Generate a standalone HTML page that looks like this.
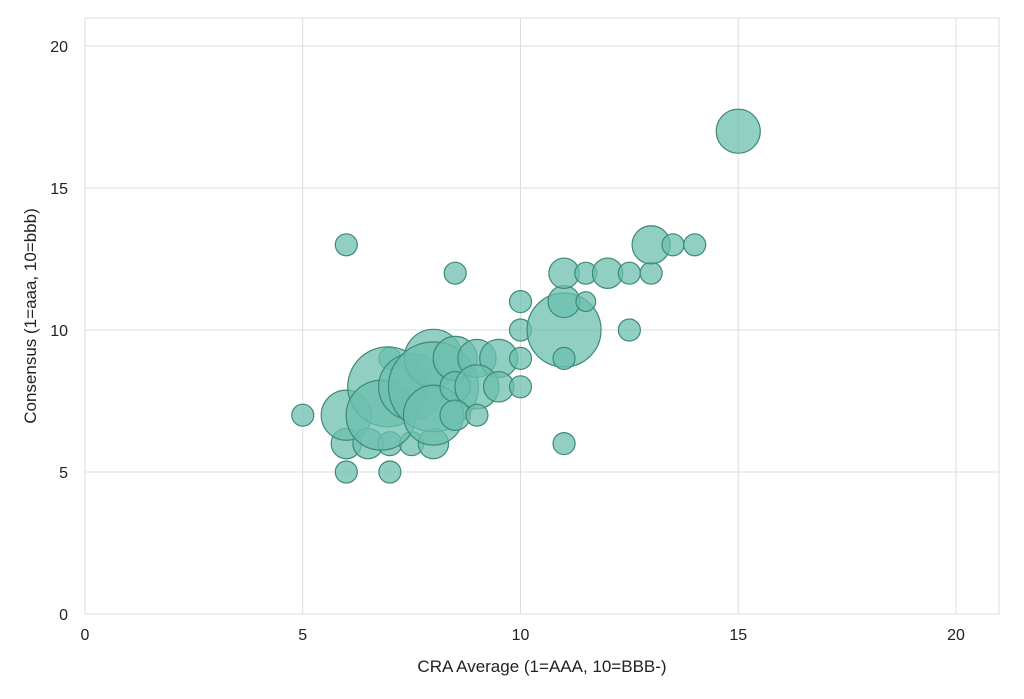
<!DOCTYPE html>
<html><head><meta charset="utf-8"><style>
body{margin:0;background:#fff;font-family:"Liberation Sans",sans-serif}
svg text{font-family:"Liberation Sans",sans-serif;fill:#222}
</style></head><body>
<svg id="chart" width="1024" height="694" xmlns="http://www.w3.org/2000/svg">
<g id="grid"></g>
<g id="bubbles"></g>
<g id="axes"></g>
<text x="542" y="672" font-size="17" text-anchor="middle">CRA Average (1=AAA, 10=BBB-)</text>
<text transform="translate(36,316) rotate(-90)" font-size="17" text-anchor="middle">Consensus (1=aaa, 10=bbb)</text>
</svg>
<script>
const xVals=[5,6,6,6,6,6.5,7,7.5,8,7,6.95,6.8,7.5,8,8,8,8.5,9,9.5,10,8.5,9,9.5,10,8.5,9,10,10,11,11,11,11,11.5,11.5,12,12.5,13,13,13.5,14,12.5,11,8.5,15,7];
const yVals=[7,13,5,6,7,6,6,6,6,9,8,7,8,9,8,7,9,9,9,9,8,8,8,8,7,7,10,11,10,11,12,9,12,11,12,12,12,13,13,13,10,6,12,17,5];
const sizes=[10,10,10,19,52,19,12,12,19,10,132,101,90,70,167,74,40,30,30,10,19,40,19,10,19,10,10,10,113,21,19,10,10,8,19,10,10,30,10,10,10,10,10,40,10];
const xTicks=[0,5,10,15,20], yTicks=[0,5,10,15,20];
const X=v=>85+v*43.55, Y=v=>614-v*28.4;
const ns="http://www.w3.org/2000/svg";
function mk(t,a,p){const e=document.createElementNS(ns,t);for(const k in a)e.setAttribute(k,a[k]);p.appendChild(e);return e;}
const grid=document.getElementById('grid'),axes=document.getElementById('axes'),bub=document.getElementById('bubbles');
mk('rect',{x:85,y:18,width:914,height:596,fill:'none',stroke:'#ddd'},grid);
xTicks.forEach(t=>{const l=mk('line',{x1:X(t),x2:X(t),y1:18,y2:614,stroke:'#ddd'},grid);

const tx=mk('text',{x:X(t),y:640,'font-size':16,'text-anchor':'middle'},axes);tx.textContent=t;
});
yTicks.forEach(t=>{const l=mk('line',{x1:85,x2:999,y1:Y(t),y2:Y(t),stroke:'#ddd'},grid);

const tx=mk('text',{x:68,y:Y(t)+6,'font-size':16,'text-anchor':'end'},axes);tx.textContent=t;
});
xVals.forEach((x,i)=>{const c=mk('circle',{cx:X(x),cy:Y(yVals[i]),r:11*Math.sqrt(sizes[i]/10),fill:'#6cbfae','fill-opacity':0.75,stroke:'#3d8a77','stroke-width':1.2},bub);
});
</script>
</body></html>
